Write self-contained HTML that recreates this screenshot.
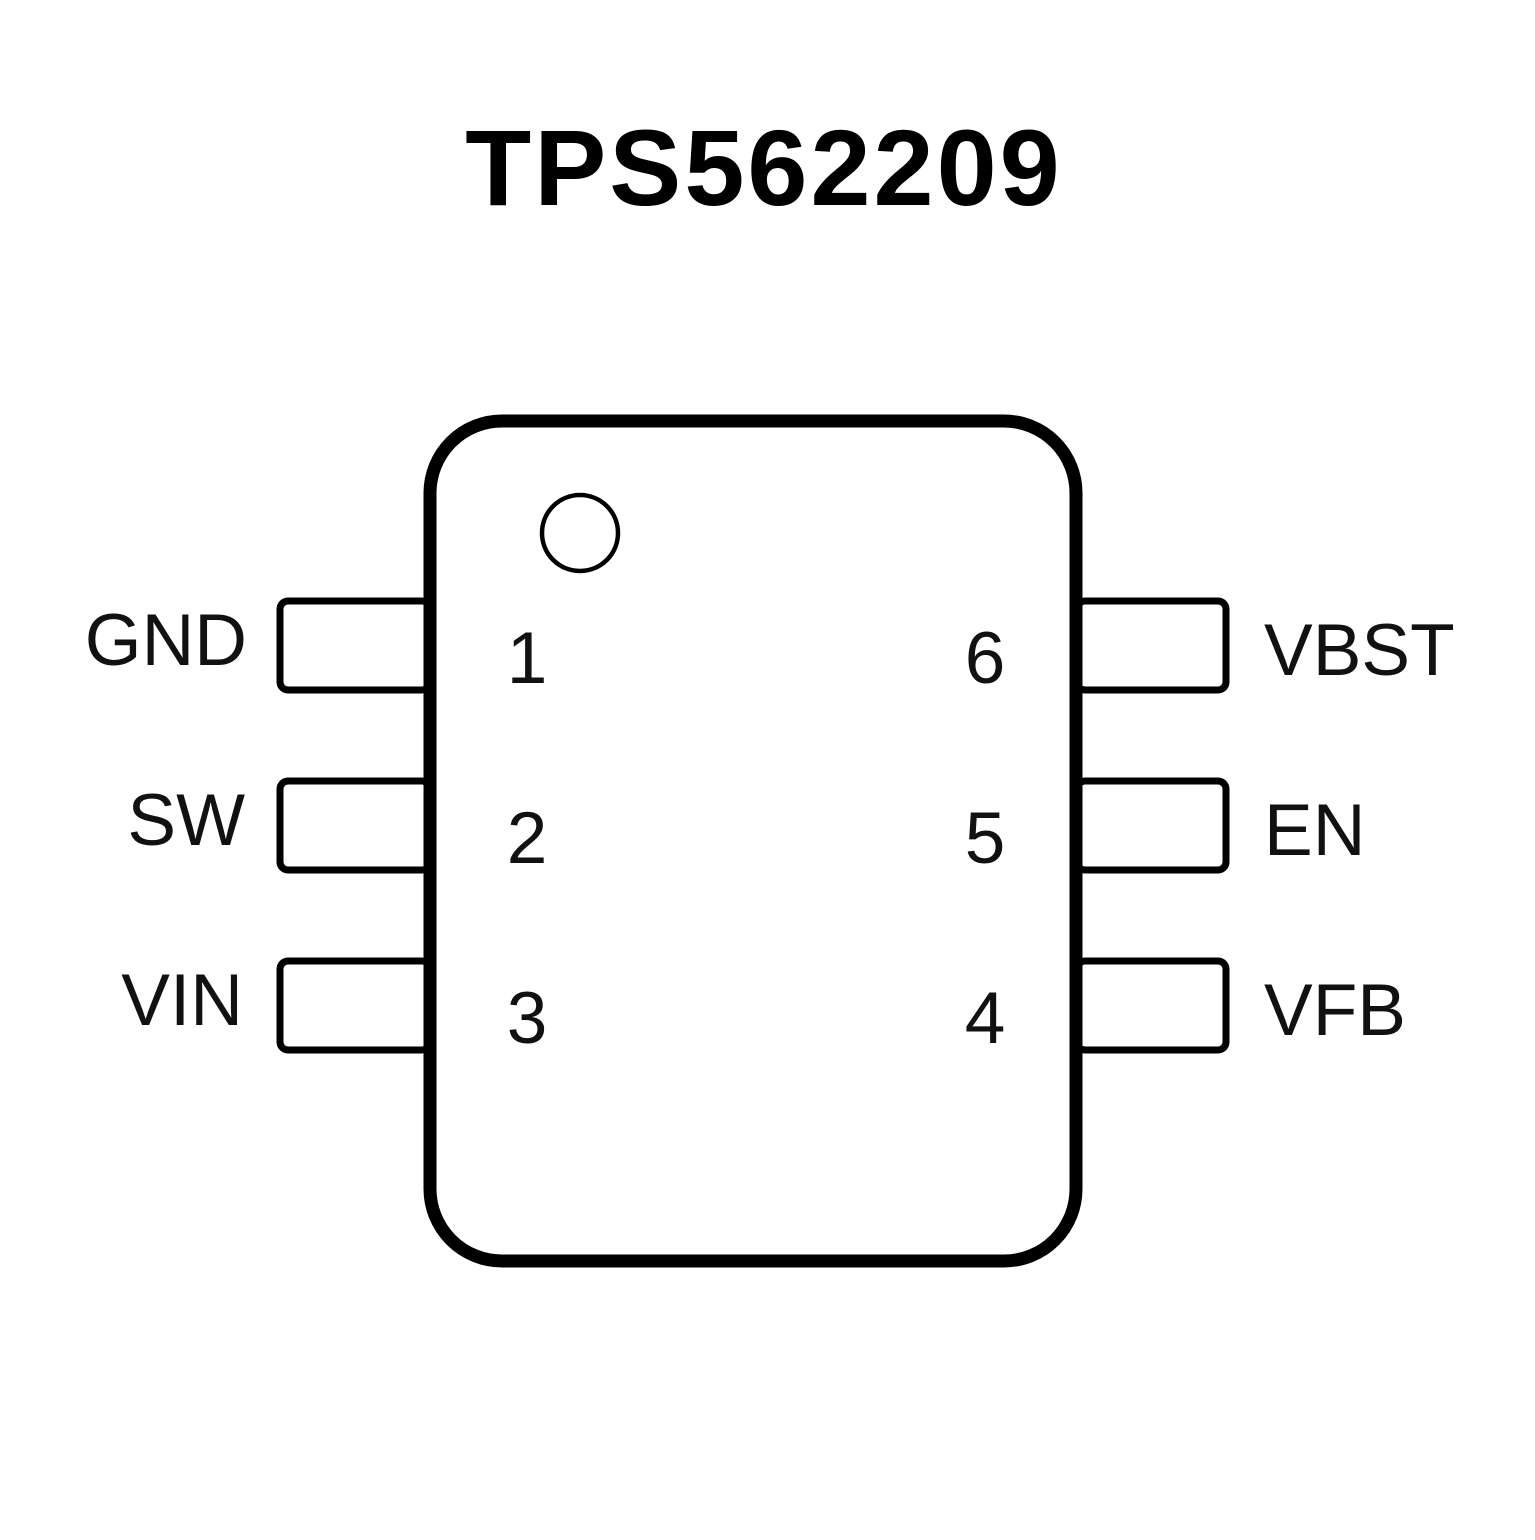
<!DOCTYPE html>
<html><head><style>body{margin:0;background:#fff}</style></head><body>
<svg width="1535" height="1535" viewBox="0 0 1535 1535" xmlns="http://www.w3.org/2000/svg">
<rect width="1535" height="1535" fill="#fff"/>
<text x="764" y="205" text-anchor="middle" font-family="Liberation Sans, sans-serif" font-weight="bold" font-size="108" letter-spacing="3" fill="#000">TPS562209</text>
<g fill="#fff" stroke="#000" stroke-width="7">
<rect x="280" y="601" width="150" height="89" rx="8"/>
<rect x="280" y="781" width="150" height="89" rx="8"/>
<rect x="280" y="961" width="150" height="89" rx="8"/>
<rect x="1077" y="601" width="149" height="89" rx="8"/>
<rect x="1077" y="781" width="149" height="89" rx="8"/>
<rect x="1077" y="961" width="149" height="89" rx="8"/>
</g>
<rect x="430" y="421" width="646" height="840" rx="72" fill="#fff" stroke="#000" stroke-width="13"/>
<circle cx="580" cy="533" r="38" fill="none" stroke="#000" stroke-width="4.5"/>
<g font-family="Liberation Sans, sans-serif" font-size="73" fill="#111">
<text x="247" y="665" text-anchor="end">GND</text>
<text x="245" y="845" text-anchor="end">SW</text>
<text x="243" y="1025" text-anchor="end">VIN</text>
<text x="1264" y="675">VBST</text>
<text x="1264" y="855">EN</text>
<text x="1264" y="1035">VFB</text>
<text x="527" y="683" text-anchor="middle">1</text>
<text x="527" y="863" text-anchor="middle">2</text>
<text x="527" y="1043" text-anchor="middle">3</text>
<text x="985" y="683" text-anchor="middle">6</text>
<text x="985" y="863" text-anchor="middle">5</text>
<text x="985" y="1043" text-anchor="middle">4</text>
</g>
</svg>
</body></html>
